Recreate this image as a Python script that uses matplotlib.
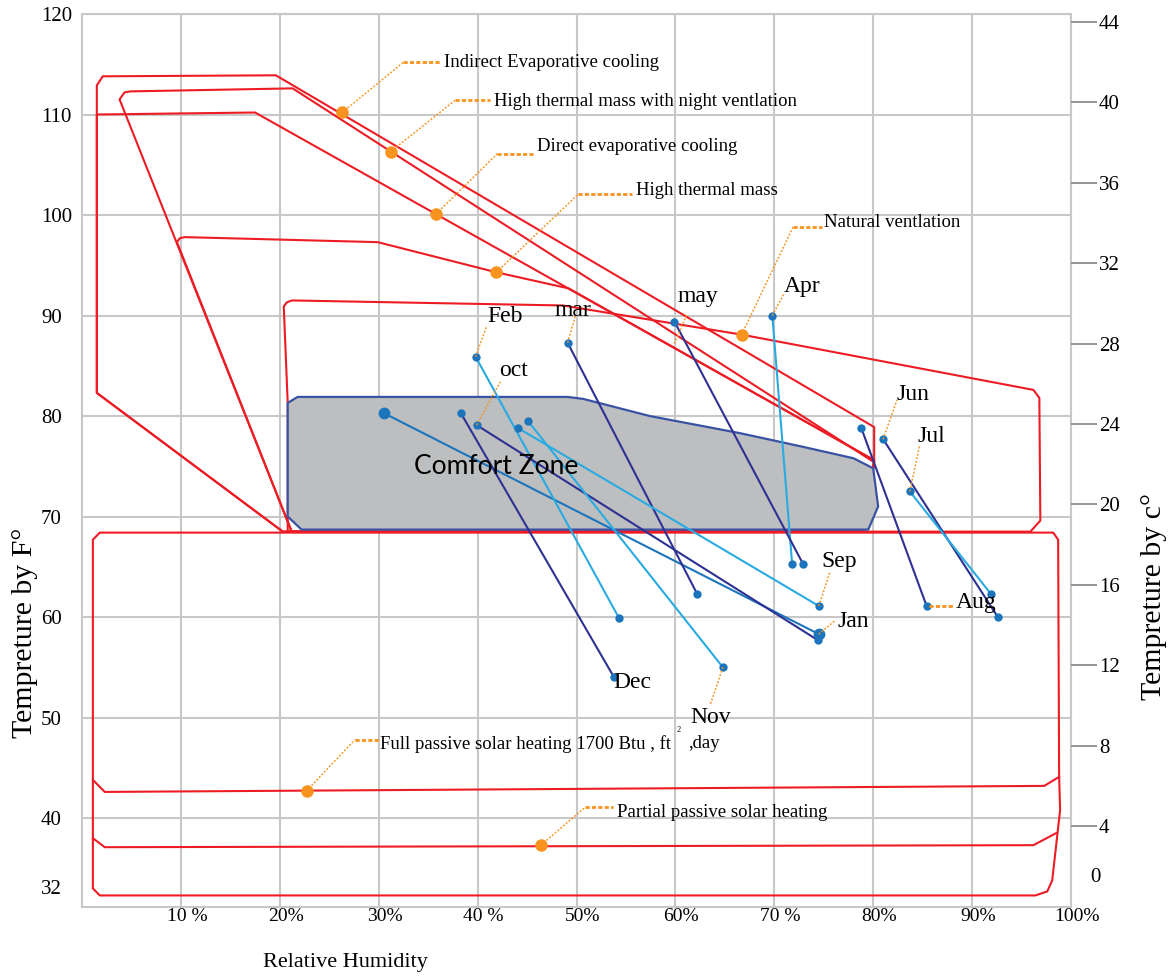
import matplotlib
matplotlib.use("Agg")
import matplotlib.pyplot as plt
from matplotlib.patches import Polygon
from matplotlib.transforms import ScaledTranslation
import matplotlib.ticker as mticker

plt.rcParams['font.family'] = ['Liberation Serif', 'DejaVu Serif']

# ---------------- data ----------------
rh_ticks = [10, 20, 30, 40, 50, 60, 70, 80, 90, 100]
rh_tick_labels = ["10 %", "20%", "30%", "40 %", "50%", "60%", "70 %", "80%", "90%", "100%"]
temp_f_ticks = [40, 50, 60, 70, 80, 90, 100, 110, 120]
temp_c_ticks = [4, 8, 12, 16, 20, 24, 28, 32, 36, 40, 44]

months = ["Jan", "Feb", "mar", "Apr", "may", "Jun", "Jul", "Aug", "Sep", "oct", "Nov", "Dec"]
rh_at_max_temp = [30.5, 39.8, 49.1, 69.8, 59.9, 81.0, 83.7, 78.8, 44.1, 39.9, 45.1, 38.3]
max_temp_f = [80.3, 85.9, 87.3, 90.0, 89.4, 77.7, 72.5, 78.8, 78.8, 79.1, 79.5, 80.3]
rh_at_min_temp = [74.5, 54.3, 62.2, 71.8, 72.9, 92.6, 91.9, 85.4, 74.5, 74.4, 64.8, 53.8]
min_temp_f = [58.3, 59.9, 62.3, 65.3, 65.3, 60.0, 62.3, 61.1, 61.1, 57.7, 55.0, 54.0]
month_line_kind = ["mid", "light", "dark", "light", "dark", "dark", "light", "dark",
                   "light", "dark", "light", "dark"]

# zone boundaries (relative humidity %, temperature F)
indirect_evap_zone = [(1.5, 82.3), (1.5, 112.9), (2.1, 113.8), (19.6, 113.9), (80.1, 78.9),
                      (80.1, 75.4), (79.0, 68.5), (20.3, 68.5)]
night_vent_zone = [(3.8, 111.5), (4.3, 112.2), (4.9, 112.3), (21.3, 112.6), (80.1, 75.4),
                   (79.0, 68.5), (21.2, 68.5)]
direct_evap_zone = [(1.5, 110.0), (17.5, 110.2), (80.1, 75.6), (79.0, 68.5), (20.3, 68.5),
                    (1.5, 82.3)]
high_mass_zone = [(9.6, 97.3), (9.9, 97.7), (10.4, 97.8), (29.9, 97.3), (41.9, 94.3),
                  (49.2, 92.7), (80.1, 75.6), (79.0, 68.5), (21.2, 68.5)]
nat_vent_zone = [(20.4, 90.9), (20.7, 91.3), (21.2, 91.5), (48.6, 91.0), (66.7, 88.1),
                 (96.2, 82.6), (96.8, 81.8), (96.9, 69.6), (95.9, 68.5), (20.8, 68.5),
                 (20.8, 81.3)]
solar_zone = [(1.1, 67.7), (1.8, 68.4), (98.2, 68.4), (98.7, 67.7), (98.8, 44.1), (98.9, 40.8),
              (98.1, 33.8), (97.6, 32.7), (96.4, 32.3), (1.8, 32.3), (1.1, 33.0)]
full_solar_line = [(1.1, 43.8), (2.3, 42.6), (97.3, 43.2), (98.8, 44.1)]
partial_solar_line = [(1.1, 38.0), (2.3, 37.1), (96.2, 37.3), (98.5, 38.5)]
comfort_zone = [(20.8, 81.3), (21.8, 81.9), (49.1, 81.9), (50.7, 81.7), (57.4, 80.0),
                (66.5, 78.3), (72.6, 77.0), (78.0, 75.8), (80.0, 74.8), (80.5, 71.0),
                (79.5, 68.7), (22.2, 68.7), (20.8, 70.0)]

strategy_names = ["Indirect Evaporative cooling", "High thermal mass with night ventlation",
                  "Direct evaporative cooling", "High thermal mass", "Natural ventlation",
                  "Full passive solar heating 1700 Btu , ft", "Partial passive solar heating"]
strategy_rh = [26.3, 31.2, 35.8, 41.9, 66.7, 22.7, 46.4]
strategy_temp = [110.2, 106.3, 100.1, 94.3, 88.1, 42.7, 37.3]

# ---------------- layout / style ----------------
RED = "#ED1C24"
ORANGE = "#F7931E"
GRID = "#C8C8C8"
line_colors = {"dark": "#2E3192", "light": "#29ABE2", "mid": "#1C75BC"}
DOT = "#1C75BC"

# leader elbows / ends / text anchors (RH, F)
strategy_elbow = [(32.5, 115.2), (37.7, 111.4), (42.0, 106.1), (50.2, 102.1), (71.9, 98.8),
                  (27.6, 47.8), (50.9, 41.1)]
strategy_end = [(36.2, 115.2), (41.3, 111.4), (45.6, 106.1), (55.6, 102.1), (74.8, 98.8),
                (30.1, 47.8), (53.7, 41.1)]
strategy_text = [(36.6, 115.2), (41.7, 111.3), (46.0, 106.8), (56.0, 102.4), (75.0, 99.3),
                 (30.1, 47.4), (54.1, 40.6)]

month_text = {"Feb": (40.95, 89.95), "mar": (47.8, 90.45), "may": (60.2, 91.85),
              "Apr": (71.0, 92.9), "oct": (42.2, 84.5), "Dec": (53.7, 53.5),
              "Nov": (61.5, 50.05), "Sep": (74.8, 65.55), "Jan": (76.4, 59.6),
              "Jun": (82.4, 82.1), "Jul": (84.45, 78.0), "Aug": (88.3, 61.4)}
month_leader = {"Feb": ((39.8, 85.9), (40.9, 88.9)), "mar": ((49.1, 87.3), (49.9, 90.0)),
                "may": ((59.9, 87.2), (61.2, 90.2)), "Apr": ((69.8, 90.0), (71.0, 92.2)),
                "oct": ((39.9, 79.1), (42.3, 83.4)), "Nov": ((64.8, 55.0), (63.5, 51.2)),
                "Sep": ((74.5, 61.1), (75.6, 64.4)), "Jan": ((74.5, 58.3), (76.2, 59.7)),
                "Jun": ((81.0, 77.7), (82.4, 81.6)), "Jul": ((83.7, 72.5), (84.7, 77.1))}

FW, FH, DPI = 11.75, 9.76, 100
fig = plt.figure(figsize=(FW, FH), dpi=DPI)
ax = fig.add_axes([82 / 1175, 1 - 907 / 976, (1071 - 82) / 1175, (907 - 14) / 976])
ax.set_xlim(0, 100)
ax.set_ylim(31.15, 120)

ax.set_xticks(rh_ticks)
ax.set_xticklabels(rh_tick_labels)
ax.set_yticks(temp_f_ticks)
ax.set_yticklabels([str(v) for v in temp_f_ticks])
ax.yaxis.set_minor_locator(mticker.FixedLocator([33.1]))
ax.yaxis.set_minor_formatter(mticker.FixedFormatter(["32"]))
ax.grid(which='major', color=GRID, lw=1.5)
ax.set_axisbelow(True)
for s in ax.spines.values():
    s.set_color(GRID)
    s.set_linewidth(1.5)
ax.tick_params(axis='x', length=0, pad=1, labelsize=14)
ax.tick_params(axis='y', which='both', length=0, pad=29.5, labelsize=15)
for lbl in ax.get_yticklabels(which='both'):
    lbl.set_ha('left')
for lbl in ax.get_xticklabels():
    lbl.set_transform(lbl.get_transform() + ScaledTranslation(0.06, 0, fig.dpi_scale_trans))

# red zone outlines
for zone in [indirect_evap_zone, night_vent_zone, direct_evap_zone, high_mass_zone,
             nat_vent_zone, solar_zone]:
    ax.add_patch(Polygon(zone, closed=True, fill=False, edgecolor=RED, lw=1.5,
                         joinstyle='round', zorder=2))
for line in [full_solar_line, partial_solar_line]:
    ax.plot([p[0] for p in line], [p[1] for p in line], color=RED, lw=1.5, zorder=2,
            solid_joinstyle='round')

# comfort zone
ax.add_patch(Polygon(comfort_zone, closed=True, facecolor="#BCBEC0", edgecolor="#3953A4",
                     lw=1.6, zorder=3))
ax.text(41.9, 75.0, "Comfort Zone", family=['Lato', 'DejaVu Sans'], fontsize=19,
        ha='center', va='center', zorder=6)

# strategy annotations
for i, name in enumerate(strategy_names):
    d = (strategy_rh[i], strategy_temp[i])
    e = strategy_elbow[i]
    n = strategy_end[i]
    ax.plot([d[0], e[0]], [d[1], e[1]], color=ORANGE, lw=1.1, ls=(0, (1.2, 1.2)), zorder=5)
    ax.plot([e[0], n[0]], [e[1], n[1]], color=ORANGE, lw=2.0, ls=(0, (1.5, 0.8)), zorder=5)
    ax.plot(d[0], d[1], 'o', color=ORANGE, ms=9, mec='none', zorder=6)
    t = strategy_text[i]
    ax.text(t[0], t[1], name, fontsize=13.5, ha='left', va='center', zorder=6)
ax.text(60.3, 48.8, "2", fontsize=6, ha='center', va='center', zorder=6)
ax.text(61.3, 47.4, ",day", fontsize=13.5, ha='left', va='center', zorder=6)

# month lines
for i, m in enumerate(months):
    big = (m == "Jan")
    ax.plot([rh_at_max_temp[i], rh_at_min_temp[i]], [max_temp_f[i], min_temp_f[i]],
            color=line_colors[month_line_kind[i]], lw=1.5, zorder=4)
    ax.plot([rh_at_max_temp[i], rh_at_min_temp[i]], [max_temp_f[i], min_temp_f[i]], 'o',
            color=DOT, ms=8.5 if big else 6, mec='none', zorder=5)
    if m in month_leader:
        a, b = month_leader[m]
        ax.plot([a[0], b[0]], [a[1], b[1]], color=ORANGE, lw=1.1, ls=(0, (1.2, 1.2)), zorder=5)
    tx, ty = month_text[m]
    ax.text(tx, ty, m, fontsize=17, ha='left', va='center', zorder=6)
i_aug = months.index("Aug")
ax.plot([rh_at_min_temp[i_aug] + 0.2, 88.1], [min_temp_f[i_aug], min_temp_f[i_aug]],
        color=ORANGE, lw=2.0, ls=(0, (1.5, 0.8)), zorder=5)

# right axis (Celsius)
ax2 = ax.twinx()
ax2.set_ylim((31.15 - 31.2) / 2, (120 - 31.2) / 2)
ax2.set_yticks(temp_c_ticks)
ax2.set_yticklabels([str(v) for v in temp_c_ticks])
ax2.tick_params(axis='y', direction='out', length=19, width=1.3, color='#8C8C8C', pad=1,
                labelsize=15)
for s in ax2.spines.values():
    s.set_visible(False)
fig.text(1090 / 1175, 1 - 878 / 976, "0", fontsize=15, ha='left', va='center')

# axis titles
fig.text(345 / 1175, 1 - 962 / 976, "Relative Humidity", fontsize=16, ha='center', va='center')
fig.text(25 / 1175, 1 - 633 / 976, "Tempreture by F°", fontsize=21.5, rotation=90,
         ha='center', va='center')
fig.text(1154 / 1175, 1 - 597 / 976, "Tempreture by c°", fontsize=21.5, rotation=90,
         ha='center', va='center')

fig.savefig("out.png", dpi=DPI)
